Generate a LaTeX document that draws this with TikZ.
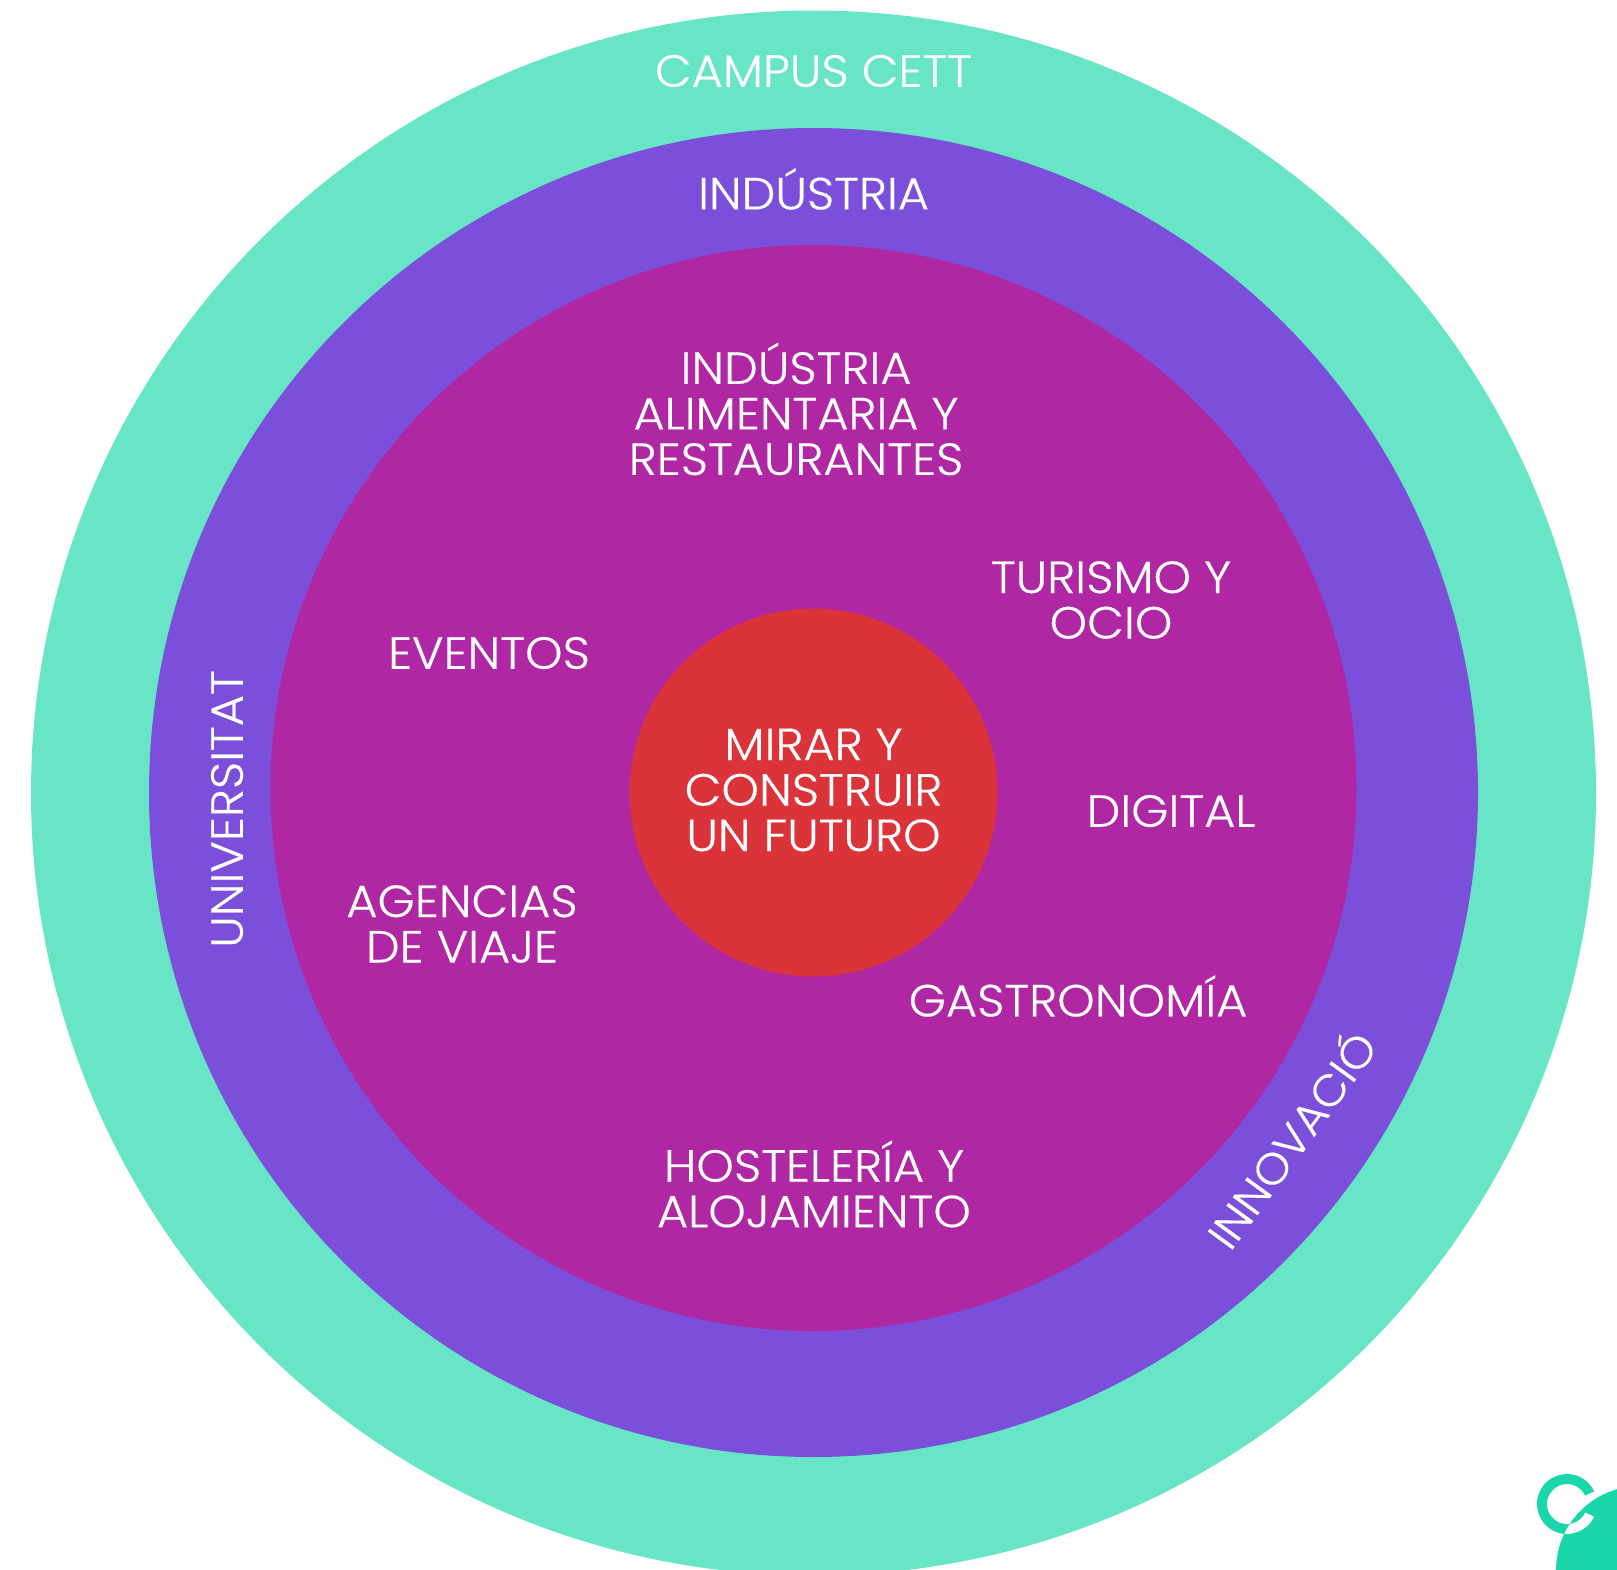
\documentclass[tikz,border=0pt]{standalone}
\usepackage{fontspec}
\setmainfont{Poppins}[UprightFont=* Light,FakeStretch=1.06,FakeBold=0.35]
\definecolor{mint}{HTML}{67E5C6}
\definecolor{violetc}{HTML}{7C4FDB}
\definecolor{magentac}{HTML}{AF27A3}
\definecolor{redc}{HTML}{DA343A}
\definecolor{logoc}{HTML}{1AD6A8}
\tikzset{
  lbl/.style={text=white,align=center,font=\fontsize{45}{45.5}\selectfont,inner sep=0pt},
  disc/.style={circle,inner sep=0pt,minimum size=#1,draw=none}
}
\begin{document}
\begin{tikzpicture}[x=1pt,y=-1pt]
\useasboundingbox (0,0) rectangle (1617,1569);
\clip (0,0) rectangle (1617,1569);
\node[disc=1565pt,fill=mint] (campus) at (813.5,793) {};
\node[disc=1329pt,fill=violetc] (industria) at (813.5,792.5) {};
\node[disc=1086pt,fill=magentac] (sector) at (813.5,788) {};
\node[disc=368pt,fill=redc] (futuro) at (813.5,792.5) {};
\node[lbl] (t1) at (813.5,71) {CAMPUS CETT};
\node[lbl] (t2) at (813.5,189) {INDÚSTRIA};
\node[lbl] (t3) at (796,409) {INDÚSTRIA\\ALIMENTARIA Y\\RESTAURANTES};
\node[lbl] (t4) at (1111,600) {TURISMO Y\\OCIO};
\node[lbl] (t5) at (489,653) {EVENTOS};
\node[lbl] (t6) at (813.5,790) {MIRAR Y\\CONSTRUIR\\UN FUTURO};
\node[lbl] (t7) at (1171,811) {DIGITAL};
\node[lbl] (t8) at (462,924) {AGENCIAS\\DE VIAJE};
\node[lbl] (t9) at (1078,996) {GASTRONOMÍA};
\node[lbl] (t10) at (814,1184) {HOSTELERÍA Y\\ALOJAMIENTO};
\node[lbl,rotate=90] (t11) at (227,809) {UNIVERSITAT};
\node[lbl,rotate=54,scale=0.97] (t12) at (1289,1138) {INNOVACIÓ};
% logo
\fill[logoc,even odd rule] (1640,1570) circle (84)
  (1567,1504) ++(25:30) arc (25:335:30) -- ++(155:10) arc (335:25:20) -- cycle;
\end{tikzpicture}
\end{document}
